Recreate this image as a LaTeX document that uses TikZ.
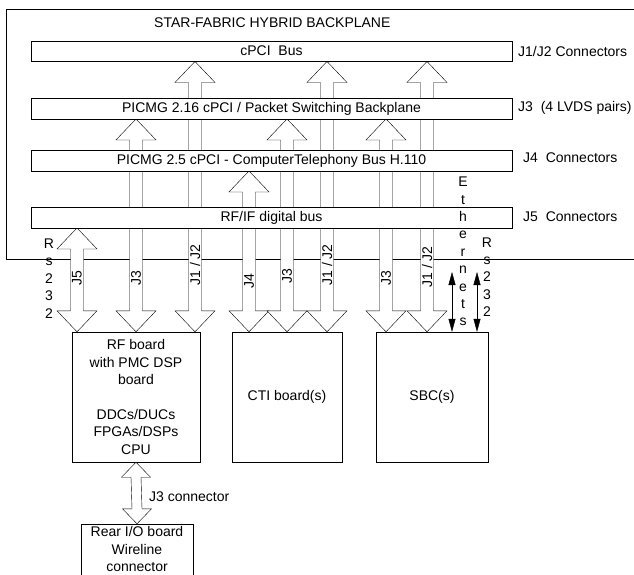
\documentclass[tikz,border=0pt]{standalone}
\usepackage{fontspec}
\setmainfont{Liberation Sans}
\usetikzlibrary{calc,arrows.meta}
\pgfdeclarelayer{bg}
\pgfsetlayers{bg,main}

\tikzset{
  bus/.style={draw, fill=white, minimum width=481pt, minimum height=20.5pt, inner sep=0pt},
  board/.style={draw, align=center, inner sep=0pt, minimum height=130pt},
  arrowbody/.style={draw, fill=white, line join=miter},
  tag/.style={inner sep=0pt, anchor=west},
  shaftlabel/.style={rotate=90, inner sep=0pt},
  letters/.style={align=center, inner sep=0pt},
  thinarrow/.style={{Triangle[length=13pt,width=7pt]}-{Triangle[length=13pt,width=7pt]}}
}

% fat double arrow: x, bus, board, label, label y, name
\newcommand{\fatarrow}[6]{%
  \path (#1,0) coordinate (#6x);
  \begin{pgfonlayer}{bg}
    \draw[arrowbody] (#6x |- #2.south) -- ++(20,21) -- ++(-13.5,0)
      -- ($(#6x |- #3.north)+(6.5,-21)$) -- ++(13.5,0) -- (#6x |- #3.north)
      -- ++(-20,-21) -- ++(13.5,0) -- ($(#6x |- #2.south)+(-6.5,21)$) -- ++(-13.5,0) -- cycle;
  \end{pgfonlayer}
  \node[shaftlabel] (#6) at (#1,#5) {#4};}

\begin{document}
\begin{tikzpicture}[x=1pt, y=-1pt, line width=0.8pt, font=\fontsize{14}{17.4}\selectfont]
    \clip (0,0) rectangle (634,574);

    % Backplane frame
    \begin{pgfonlayer}{bg}
    \draw (634,9) -- (6,9) -- (6,259) -- (634,259);
    \end{pgfonlayer}
    \node[tag] (title) at (154,23) {STAR-FABRIC HYBRID BACKPLANE};

    % Buses
    \node[bus] (cpci) at (271.5,51) {cPCI\ \ Bus};
    \node[bus] (psb) at (271.5,108.5) {PICMG 2.16 cPCI / Packet Switching Backplane};
    \node[bus] (ctb) at (271.5,160.5) {PICMG 2.5 cPCI - ComputerTelephony Bus H.110};
    \node[bus] (rfif) at (271.5,217.5) {RF/IF digital bus};

    \node[tag] (cpcitag) at (518,51) {J1/J2 Connectors};
    \node[tag] (psbtag) at (518,108) {J3\ \ (4 LVDS pairs)};
    \node[tag] (ctbtag) at (523,158) {J4\ \ Connectors};
    \node[tag] (rfiftag) at (523,217) {J5\ \ Connectors};

    % Boards
    \node[board, minimum width=128pt] (rf) at (136,397)
        {RF board\\with PMC DSP\\board\\[17.4pt]DDCs/DUCs\\FPGAs/DSPs\\CPU};
    \node[board, minimum width=110pt] (cti) at (287,397) {CTI board(s)};
    \node[board, minimum width=112pt] (sbc) at (432,397) {SBC(s)};
    \node[board, draw=none, minimum width=112pt, minimum height=50pt] (rear) at (137,549)
        {Rear I/O board\\Wireline\\connector};
    % rear board runs off the bottom edge
    \draw ($(rear.south west)+(0,10)$) -- (rear.north west) -- (rear.north east)
        -- ($(rear.south east)+(0,10)$);

    % Connector arrows
    \fatarrow{77}{rfif}{rf}{J5}{278}{rfjfive}
    \fatarrow{136}{psb}{rf}{J3}{278}{rfjthree}
    \fatarrow{195}{cpci}{rf}{J1 / J2}{265}{rfjone}
    \fatarrow{249}{ctb}{cti}{J4}{281}{ctijfour}
    \fatarrow{287}{psb}{cti}{J3}{276}{ctijthree}
    \fatarrow{327}{cpci}{cti}{J1 / J2}{265}{ctijone}
    \fatarrow{386}{psb}{sbc}{J3}{278}{sbcjthree}
    \fatarrow{427}{cpci}{sbc}{J1 / J2}{267}{sbcjone}

    % J3 connector to rear board
    \draw[arrowbody] (rf.south) -- ++(14.5,15) -- ++(-9.5,0) -- ($(rear.north)+(5,-15)$)
        -- ++(9.5,0) -- (rear.north) -- ++(-14.5,-15) -- ++(9.5,0)
        -- ($(rf.south)+(-5,15)$) -- ++(-9.5,0) -- cycle;
    \node[tag] (reartag) at (149,497) {J3 connector};

    % Ethernet and RS232 lines
    \coordinate (ethtop) at (452,272);
    \draw[thinarrow] (ethtop) -- (ethtop |- sbc.north);
    \coordinate (rstop) at (477,272);
    \draw[thinarrow] (rstop) -- (rstop |- sbc.north);

    \node[letters] (eth) at (463,251.5) {E\\t\\h\\e\\r\\n\\e\\t\\s};
    \node[letters] (rsright) at (487,277) {R\\s\\2\\3\\2};
    \node[letters] (rsleft) at (49,278.5) {R\\s\\2\\3\\2};
\end{tikzpicture}
\end{document}
